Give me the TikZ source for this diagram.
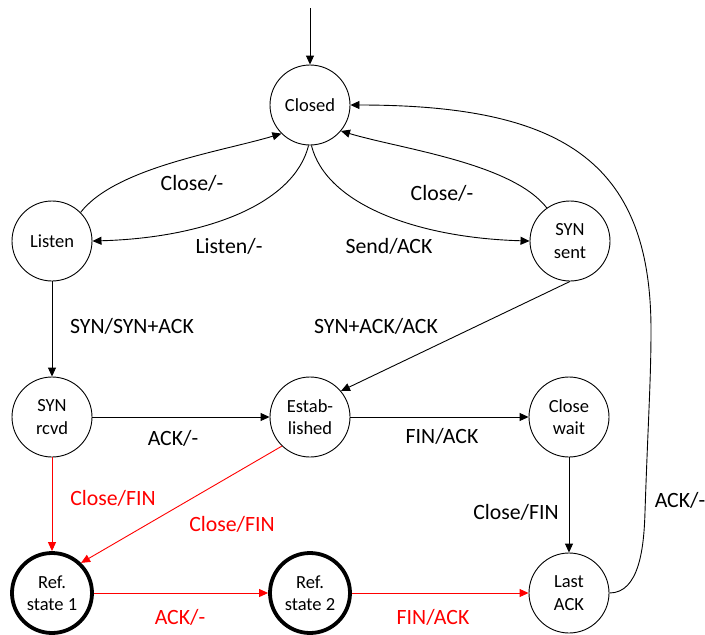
\documentclass[tikz,border=0pt]{standalone}
\usepackage{fontspec}
\setmainfont{Carlito}
\usetikzlibrary{arrows.meta}
\begin{document}
\begin{tikzpicture}[x=1pt,y=-1pt,
 st/.style={circle,draw,line width=0.9pt,minimum size=80pt,inner sep=0pt,align=center,font=\fontsize{18.5}{22.5}\selectfont},
 refst/.style={st,line width=3.8pt},
 tr/.style={draw,line width=0.9pt,-{Triangle[length=9pt,width=8pt]}},
 rt/.style={tr,red},
 lb/.style={font=\fontsize{21.8}{24}\selectfont,inner sep=0pt},
 rl/.style={lb,text=red}]
\useasboundingbox (0,0) rectangle (705,635);
\node[st] (closed) at (310,105) {Closed};
\node[st] (listen) at (52,241) {Listen};
\node[st] (synsent) at (570,241) {SYN\\sent};
\node[st] (synrcvd) at (52,417) {SYN\\rcvd};
\node[st] (est) at (310,417) {Estab-\\lished};
\node[st] (cwait) at (569,417) {Close\\wait};
\node[refst] (ref1) at (52,593) {Ref.\\state 1};
\node[refst] (ref2) at (310,593) {Ref.\\state 2};
\node[st] (last) at (569,593) {Last\\ACK};
\coordinate (start) at (310,8);
\coordinate (r1) at (645,512);
\coordinate (r2) at (651,330);
% connectors
\draw[tr] (start) -- (closed);
\draw[tr] (listen.45) .. controls +(35,-45) and +(-60,18) .. (closed.225);
\draw[tr] (closed.268) .. controls +(-15,60) and +(110,-3) .. (listen.east);
\draw[tr] (closed.272) .. controls +(15,60) and +(-110,-3) .. (synsent.west);
\draw[tr] (synsent.125) .. controls +(-35,-45) and +(60,18) .. (closed.-40);
\draw[tr] (last.east) .. controls +(30,0) and +(-1,35) .. (r1) .. controls +(3,-90) and +(0,50) .. (r2) .. controls +(0,-170) and +(210,0) .. (closed.east);
\draw[tr] (listen) -- (synrcvd);
\draw[tr] (synsent.south) -- (est.40);
\draw[tr] (synrcvd) -- (est);
\draw[tr] (est) -- (cwait);
\draw[tr] (cwait) -- (last);
\draw[rt] (synrcvd) -- (ref1);
\draw[rt] (est.226) -- (ref1.46);
\draw[rt] (ref1) -- (ref2);
\draw[rt] (ref2) -- (last);
% labels
\node[lb] (l1) at (192,183) {Close/-};
\node[lb] (l2) at (229,246) {Listen/-};
\node[lb] (l3) at (389,246) {Send/ACK};
\node[lb] (l4) at (442,193) {Close/-};
\node[lb] (l5) at (132,326) {SYN/SYN+ACK};
\node[lb] (l6) at (376,326) {SYN+ACK/ACK};
\node[lb] (l7) at (173,438) {ACK/-};
\node[lb] (l8) at (442,436) {FIN/ACK};
\node[rl] (l9) at (113,498) {Close/FIN};
\node[rl] (l10) at (232,524) {Close/FIN};
\node[lb] (l11) at (516,512) {Close/FIN};
\node[lb] (l12) at (680,500) {ACK/-};
\node[rl] (l13) at (180,617) {ACK/-};
\node[rl] (l14) at (433,617) {FIN/ACK};
\end{tikzpicture}
\end{document}
